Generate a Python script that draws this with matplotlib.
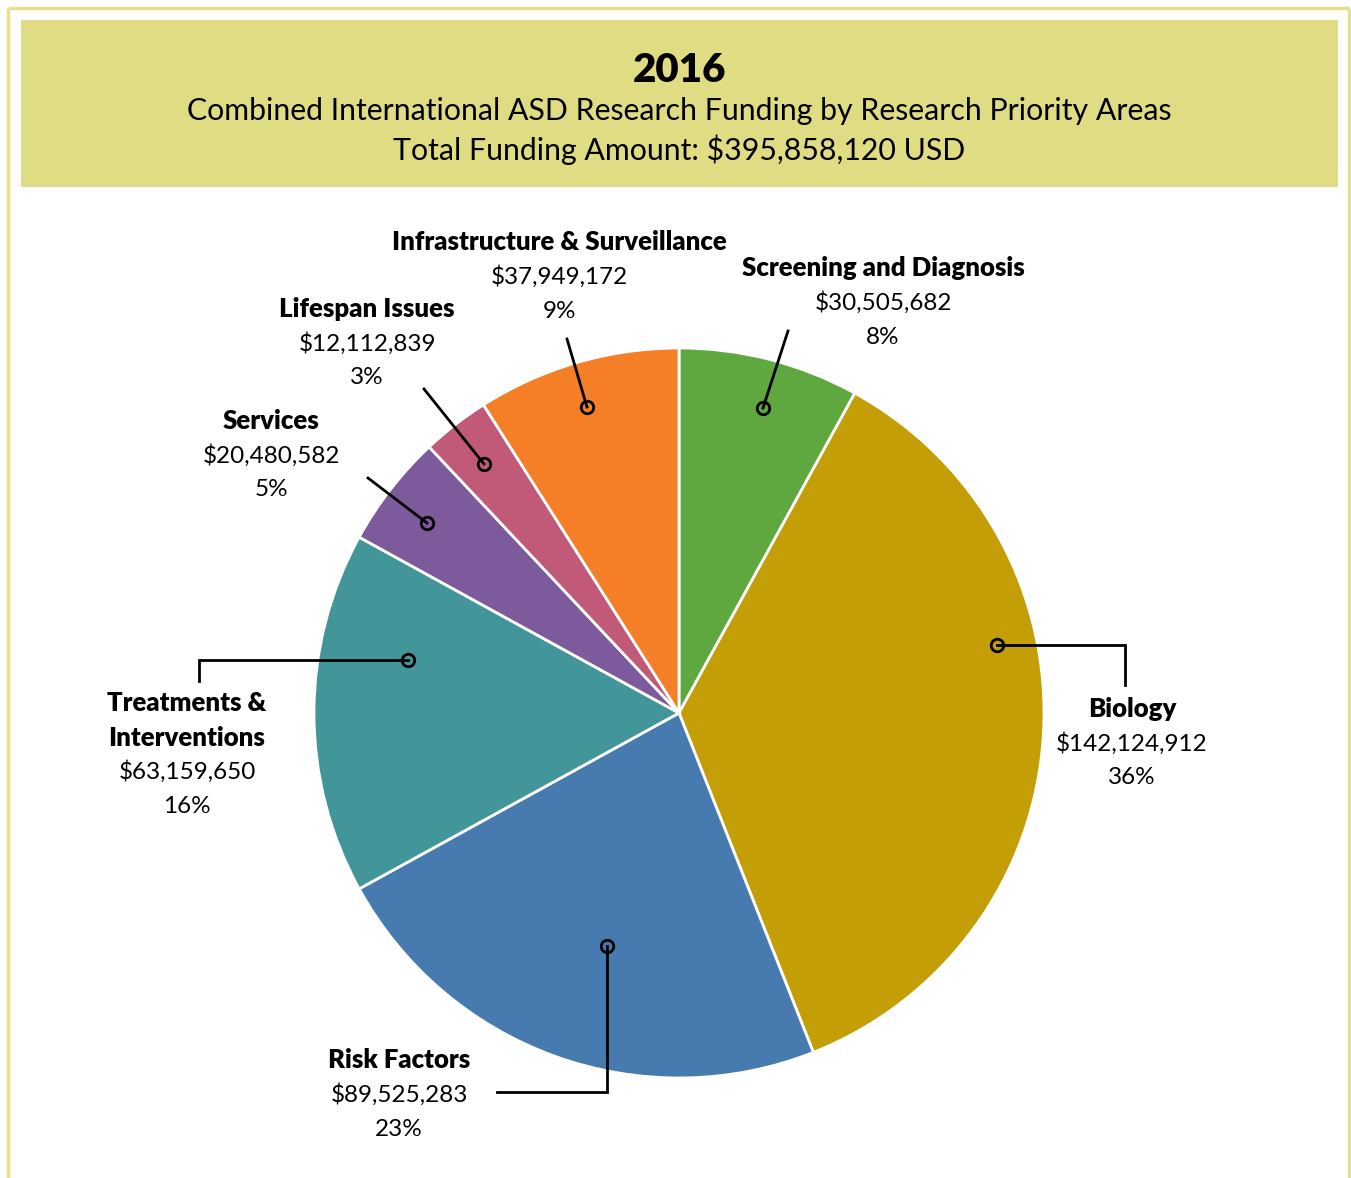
import matplotlib.pyplot as plt
from matplotlib.patches import Rectangle

plt.rcParams['font.family'] = ['Lato', 'DejaVu Sans']

# data
categories = ['Screening and Diagnosis', 'Biology', 'Risk Factors',
              'Treatments &\nInterventions', 'Services', 'Lifespan Issues',
              'Infrastructure & Surveillance']
amounts = [30505682, 142124912, 89525283, 63159650, 20480582, 12112839, 37949172]
# the slices in the original follow the rounded percentages
pcts = [8, 36, 23, 16, 5, 3, 9]
colors = ['#5EA83F', '#C49E06', '#477BB0', '#42969A', '#7C5A9C', '#C05A78', '#F47F27']

title_year = '2016'
title_line = 'Combined International ASD Research Funding by Research Priority Areas'
total_line = 'Total Funding Amount: ${:,} USD'.format(sum(amounts))

# layout in pixel coords (y down): label centre/top, leader path from dot outward
label_pos = [(883, 268), (1132, 709), (399, 1060), (187, 703),
             (271, 421), (367, 309), (559, 242)]
leaders = [
    [(763, 408), (788, 331)],
    [(997, 645), (1125, 645), (1125, 685)],
    [(607, 946), (607, 1092), (497, 1092)],
    [(408, 660), (199, 660), (199, 681)],
    [(427, 523), (368, 478)],
    [(484, 464), (424, 389)],
    [(587, 407), (567, 339)],
]

W, H = 1351, 1178
fig = plt.figure(figsize=(W / 100, H / 100), dpi=100)
ax = fig.add_axes([0, 0, 1, 1])

ax.pie(pcts, colors=colors, startangle=-90, counterclock=True,
       center=(679, 713), radius=365,
       wedgeprops=dict(edgecolor='white', linewidth=2))
ax.set_xlim(0, W)
ax.set_ylim(H, 0)
ax.set_aspect('equal')
ax.axis('off')

# outer frame and header band
border = '#E3E08F'
ax.plot([8, 8], [H, 8], color=border, lw=2.5, solid_capstyle='butt')
ax.plot([8, 1349], [8, 8], color=border, lw=2.5, solid_capstyle='butt')
ax.plot([1349, 1349], [8, H], color=border, lw=2.5, solid_capstyle='butt')
ax.add_patch(Rectangle((21, 20), 1317, 167, facecolor='#E0DC84', edgecolor='none'))

ax.text(679, 70, title_year, ha='center', va='center', fontsize=29, fontweight='heavy')
ax.text(679, 111, title_line, ha='center', va='center', fontsize=21.8)
ax.text(679, 150, total_line, ha='center', va='center', fontsize=21.8)

step = 34.5
for name, amt, pct, (lx, ly), path in zip(categories, amounts, pcts, label_pos, leaders):
    lines = name.split('\n')
    for i, ln in enumerate(lines):
        ax.text(lx, ly + i * step, ln, ha='center', va='center',
                fontsize=18.5, fontweight='heavy')
    n = len(lines)
    ax.text(lx, ly + n * step, '${:,}'.format(amt), ha='center', va='center', fontsize=17.5)
    ax.text(lx, ly + (n + 1) * step, '{}%'.format(pct), ha='center', va='center', fontsize=17.5)
    xs = [p[0] for p in path]
    ys = [p[1] for p in path]
    ax.plot(xs, ys, color='black', lw=2, solid_joinstyle='miter', zorder=5)
    ax.plot(xs[0], ys[0], marker='o', ms=9, mfc='none', mec='black', mew=2, zorder=6)

fig.savefig('out.png', dpi=100)
